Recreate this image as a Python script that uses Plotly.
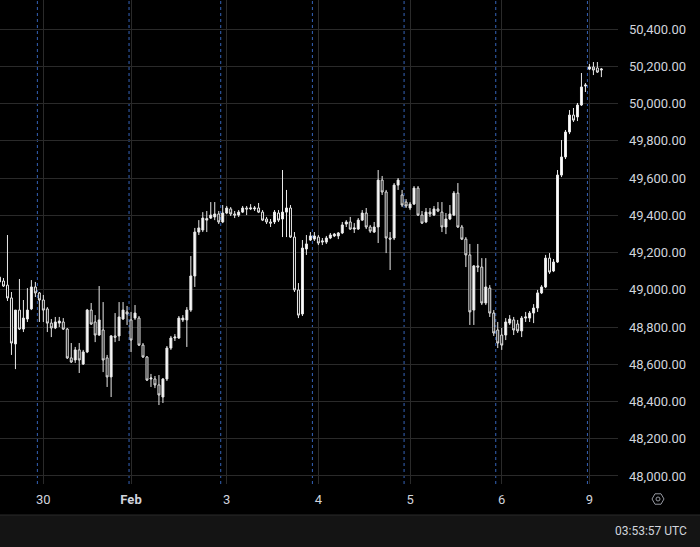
import plotly.graph_objects as go

# ---- data (hourly candles, sessions separated by the daily break) ----
session_labels = ["30", "<b>Feb</b>", "3", "4", "5", "6", "9"]
session_sizes = [10, 23, 23, 23, 23, 23, 23, 4]   # first entry: tail of previous session
label_offsets = [1, 0, 1, 1, 1, 1, 0]             # candle offset of the label inside its session

opens = [
    49068, 49047, 49025, 48956, 48709, 48891, 48789, 48843, 48897, 49015,
    48983, 48945, 48897, 48821, 48795, 48821, 48827, 48789, 48634, 48623, 48677, 48601, 48666, 48891, 48827, 48757, 48784, 48634, 48532, 48752, 48752, 48843, 48881,
    48838, 48848, 48848, 48703, 48639, 48521, 48521, 48489, 48424, 48521, 48687, 48741, 48741, 48838, 48838, 48891, 49074, 49310, 49321, 49374, 49385, 49391, 49407,
    49364, 49412, 49434, 49407, 49401, 49417, 49439, 49434, 49434, 49439, 49417, 49380, 49364, 49364, 49412, 49380, 49417, 49439, 49283, 48999, 48870, 49219, 49267,
    49272, 49283, 49256, 49256, 49278, 49289, 49289, 49305, 49353, 49364, 49326, 49326, 49374, 49412, 49337, 49310, 49337, 49589, 49525, 49278, 49278, 49562, 49509,
    49471, 49439, 49460, 49546, 49401, 49364, 49417, 49401, 49434, 49417, 49337, 49380, 49401, 49519, 49337, 49272, 49187, 48891, 49128, 49122, 48929, 49009, 48875,
    48784, 48757, 48757, 48821, 48838, 48816, 48779, 48848, 48848, 48875, 48902, 48983, 49015, 49170, 49101, 49149, 49616, 49713, 49847, 49938, 49928, 49992, 50094,
    50185, 50196, 50191, 50180,
]
highs = [
    49079, 49063, 49294, 48988, 48891, 49058, 48945, 49009, 49052, 49042,
    48988, 48972, 48907, 48843, 48854, 48854, 48848, 48795, 48714, 48693, 48714, 48677, 48897, 48929, 48864, 49020, 48934, 48650, 48757, 48875, 48934, 48934, 48913,
    48881, 48918, 48859, 48714, 48644, 48548, 48537, 48542, 48526, 48698, 48752, 48762, 48859, 48864, 48907, 49181, 49332, 49374, 49417, 49423, 49471, 49471, 49423,
    49455, 49450, 49444, 49423, 49428, 49450, 49450, 49460, 49450, 49466, 49428, 49391, 49380, 49428, 49428, 49643, 49536, 49455, 49310, 49036, 49267, 49294, 49310,
    49310, 49294, 49278, 49289, 49305, 49305, 49310, 49364, 49374, 49391, 49358, 49385, 49428, 49439, 49348, 49364, 49643, 49611, 49536, 49310, 49573, 49600, 49536,
    49487, 49471, 49557, 49557, 49423, 49439, 49439, 49450, 49471, 49471, 49412, 49455, 49530, 49573, 49348, 49283, 49246, 49133, 49246, 49170, 49170, 49025, 48891,
    48827, 48795, 48848, 48864, 48854, 48838, 48859, 48881, 48886, 48923, 48999, 49025, 49187, 49197, 49165, 49643, 49804, 49858, 49965, 49976, 50003, 50164, 50110,
    50212, 50223, 50223, 50191,
]
lows = [
    49031, 49015, 48940, 48650, 48574, 48784, 48773, 48827, 48891, 48961,
    48827, 48827, 48773, 48746, 48789, 48800, 48784, 48628, 48607, 48607, 48553, 48596, 48660, 48811, 48719, 48752, 48558, 48478, 48424, 48719, 48725, 48838, 48811,
    48666, 48838, 48698, 48634, 48510, 48478, 48472, 48381, 48392, 48510, 48677, 48725, 48736, 48827, 48693, 48881, 49015, 49294, 49310, 49310, 49380, 49374, 49353,
    49358, 49407, 49396, 49385, 49391, 49412, 49401, 49428, 49423, 49412, 49369, 49353, 49337, 49353, 49364, 49283, 49283, 49278, 48988, 48848, 48859, 49187, 49262,
    49262, 49240, 49240, 49246, 49272, 49283, 49272, 49299, 49337, 49321, 49305, 49321, 49369, 49326, 49305, 49305, 49251, 49509, 49197, 49106, 49267, 49536, 49444,
    49439, 49428, 49455, 49396, 49353, 49358, 49391, 49396, 49417, 49310, 49299, 49374, 49396, 49332, 49267, 49122, 48811, 48811, 49095, 48918, 48918, 48854, 48752,
    48687, 48677, 48730, 48811, 48757, 48768, 48746, 48827, 48827, 48821, 48881, 48977, 49009, 49085, 49095, 49144, 49605, 49702, 49836, 49901, 49906, 49987, 50062,
    50180, 50153, 50164, 50142,
]
closes = [
    49042, 49020, 48956, 48714, 48891, 48789, 48848, 48891, 49015, 48983,
    48945, 48891, 48821, 48795, 48827, 48832, 48789, 48634, 48612, 48677, 48623, 48666, 48891, 48816, 48757, 48838, 48623, 48532, 48752, 48745, 48854, 48891, 48870,
    48730, 48875, 48703, 48639, 48515, 48526, 48489, 48435, 48521, 48687, 48741, 48746, 48848, 48848, 48891, 49074, 49310, 49332, 49385, 49382, 49401, 49407, 49364,
    49412, 49439, 49407, 49401, 49417, 49439, 49434, 49439, 49439, 49417, 49374, 49364, 49358, 49417, 49374, 49417, 49439, 49283, 48999, 48864, 49224, 49246, 49289,
    49289, 49251, 49262, 49278, 49294, 49299, 49305, 49348, 49364, 49326, 49332, 49374, 49412, 49337, 49315, 49337, 49589, 49525, 49278, 49272, 49562, 49589, 49455,
    49450, 49460, 49546, 49401, 49358, 49417, 49407, 49434, 49423, 49337, 49380, 49407, 49519, 49337, 49272, 49187, 48881, 49128, 49122, 48929, 49015, 48875, 48768,
    48714, 48703, 48827, 48843, 48784, 48779, 48848, 48854, 48875, 48902, 48983, 49015, 49170, 49095, 49149, 49616, 49713, 49847, 49938, 49911, 49992, 50089, 50099,
    50196, 50180, 50169, 50185,
]

n = len(opens)
assert n == len(highs) == len(lows) == len(closes) == sum(session_sizes)
x = list(range(n))

# session starts (index of first candle of each full session)
starts = []
acc = 0
for s in session_sizes:
    starts.append(acc)
    acc += s
session_starts = starts[1:]
tick_pos = [st + off for st, off in zip(session_starts, label_offsets)]

# ---- figure ----
W, H = 700, 547
L, R, T, B = 0, 82, 0, 63
pw, ph = W - L - R, H - T - B

BG = "#000000"
GRID = "#2a2a2a"
TXT = "#d1d4dc"
FONT = "Roboto"

fig = go.Figure(go.Candlestick(
    x=x, open=opens, high=highs, low=lows, close=closes,
    increasing=dict(line=dict(color="#e8e8e8", width=1), fillcolor="#ffffff"),
    decreasing=dict(line=dict(color="#e8e8e8", width=1), fillcolor="#000000"),
    hoverinfo="skip", showlegend=False,
))

shapes = []
for st in session_starts:
    shapes.append(dict(type="line", xref="x", yref="paper", x0=st - 0.5, x1=st - 0.5,
                       y0=0, y1=1, line=dict(color="#3563b8", width=1, dash="3px,3px"),
                       layer="below"))

def px_y(yp):
    return (ph - yp) / ph
def px_x(xp):
    return xp / pw

# bottom status bar
shapes.append(dict(type="rect", xref="paper", yref="paper", x0=px_x(-2), x1=px_x(W + 2),
                   y0=px_y(H + 2), y1=px_y(515), fillcolor="#141414",
                   line=dict(width=0), layer="above"))
shapes.append(dict(type="line", xref="paper", yref="paper", x0=px_x(0), x1=px_x(W),
                   y0=px_y(515), y1=px_y(515), line=dict(color="#2a2a2a", width=1)))
# settings icon (hexagon with dot)
cx, cy, r = 658, 499, 6.0
hx = [cx + r, cx + r / 2, cx - r / 2, cx - r, cx - r / 2, cx + r / 2]
hy = [cy, cy - r * 0.87, cy - r * 0.87, cy, cy + r * 0.87, cy + r * 0.87]
path = "M " + " L ".join(f"{px_x(a):.5f},{px_y(b):.5f}" for a, b in zip(hx, hy)) + " Z"
shapes.append(dict(type="path", xref="paper", yref="paper", path=path,
                   line=dict(color="#9598a1", width=1)))
shapes.append(dict(type="circle", xref="paper", yref="paper",
                   x0=px_x(cx - 2), x1=px_x(cx + 2), y0=px_y(cy + 2), y1=px_y(cy - 2),
                   line=dict(color="#9598a1", width=1)))

fig.update_layout(
    width=W, height=H,
    margin=dict(l=L, r=R, t=T, b=B, pad=0),
    paper_bgcolor=BG, plot_bgcolor=BG,
    font=dict(family=FONT, color=TXT, size=13),
    shapes=shapes,
    annotations=[dict(xref="paper", yref="paper", x=px_x(689), y=px_y(531),
                      xanchor="right", yanchor="middle", showarrow=False,
                      text="03:53:57 UTC", font=dict(family=FONT, size=12, color=TXT))],
    xaxis=dict(range=[0.125, 155.17], tickmode="array", tickvals=tick_pos,
               ticktext=session_labels, showgrid=True, gridcolor=GRID, gridwidth=1,
               zeroline=False, showline=False, ticks="", rangeslider=dict(visible=False),
               tickfont=dict(size=13, color=TXT), ticklabelstandoff=6, fixedrange=True),
    yaxis=dict(side="right", range=[47957, 50556], tick0=48000, dtick=200,
               tickformat=",.2f", showgrid=True, gridcolor=GRID, gridwidth=1,
               zeroline=False, showline=False, ticks="",
               tickfont=dict(size=13, color=TXT), ticklabelstandoff=10, fixedrange=True),
)

fig.write_html(
    "out.html",
    config={"displayModeBar": False},
    post_script="document.body.style.margin='0';document.body.style.background='#000';",
)
